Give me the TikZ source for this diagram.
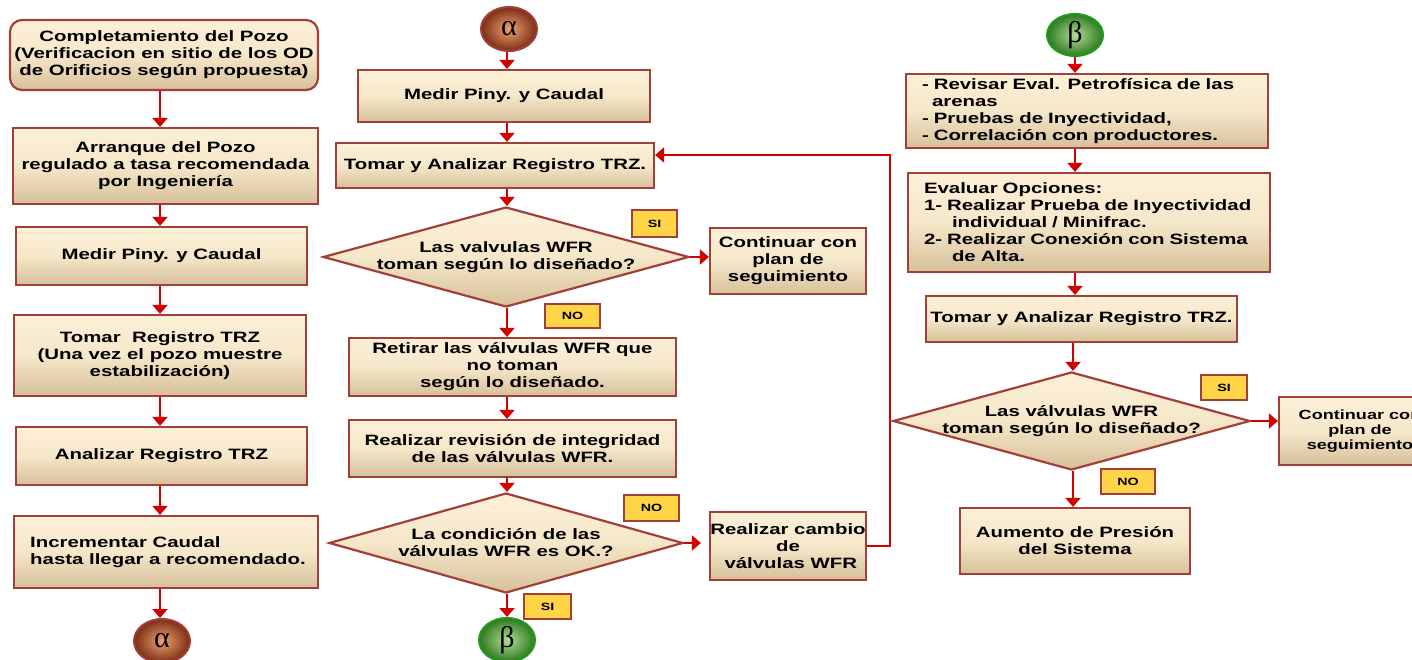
\documentclass[tikz,border=0pt]{standalone}
\usepackage{fontspec}
\setmainfont{Liberation Sans}[FakeStretch=1.36]
\newfontfamily\greekf{Liberation Serif}
\usetikzlibrary{shapes.geometric,arrows.meta}
\definecolor{bord}{HTML}{A33F3A}
\definecolor{btop}{HTML}{FCF0D8}
\definecolor{bmid}{HTML}{F5E7C9}
\definecolor{bbot}{HTML}{D6C09A}
\definecolor{arr}{HTML}{D30000}
\definecolor{lab}{HTML}{FFD446}
\definecolor{ain}{HTML}{EFA070}
\definecolor{aout}{HTML}{7A2E14}
\definecolor{bin}{HTML}{B2DC98}
\definecolor{bout}{HTML}{2C7A1E}
\definecolor{bbord}{HTML}{1F9A1F}
\tikzset{
  stepbox/.style={rectangle, draw=bord, line width=2.2pt, top color=btop, bottom color=bbot, middle color=bmid,
    align=center, inner sep=0pt, font=\bfseries\fontsize{15}{17}\selectfont},
  decbox/.style={diamond, draw=bord, line width=2.2pt, top color=btop, bottom color=bbot, middle color=bmid, inner sep=0pt},
  dtext/.style={align=center, inner sep=0pt, font=\bfseries\fontsize{15}{17}\selectfont},
  ltext/.style={align=left, inner sep=0pt, font=\bfseries\fontsize{15}{17}\selectfont},
  labbox/.style={rectangle, draw=bord, line width=2pt, fill=lab, inner sep=0pt, font=\bfseries\fontsize{10.5}{12}\selectfont},
  alphac/.style={ellipse, draw=bord, line width=2pt, inner color=ain, outer color=aout, inner sep=0pt, font=\greekf\fontsize{30}{30}\selectfont},
  betac/.style={ellipse, draw=bbord, line width=2pt, inner color=bin, outer color=bout, inner sep=0pt, font=\greekf\fontsize{30}{30}\selectfont},
  flow/.style={draw=arr, line width=2pt, -{Triangle[width=15pt,length=9pt]}},
}
\begin{document}
\begin{tikzpicture}[x=1pt,y=-1pt]
\fill[white] (0,0) rectangle (1412,660);
\useasboundingbox (0,0) rectangle (1412,660);

% ---------- left column ----------
\node[stepbox, rounded corners=12pt, minimum width=308pt, minimum height=70pt] (c1) at (164,55)
  {Completamiento del Pozo\\(Verificacion en sitio de los OD\\de Orificios según propuesta)};
\node[stepbox, minimum width=305pt, minimum height=76pt] (c2) at (165.5,166)
  {Arranque del Pozo\\regulado a tasa recomendada\\por Ingeniería};
\node[stepbox, minimum width=291pt, minimum height=58pt] (c3) at (161.5,256) {Medir Piny. y Caudal};
\node[stepbox, minimum width=292pt, minimum height=81pt] (c4) at (160,355.5)
  {Tomar\ \ Registro TRZ\\(Una vez el pozo muestre\\estabilización)};
\node[stepbox, minimum width=291pt, minimum height=58pt] (c5) at (161.5,456) {Analizar Registro TRZ};
\node[stepbox, minimum width=304pt, minimum height=72pt] (c6) at (166,552) {};
\node[ltext, anchor=west] (c6t) at (30,552) {Incrementar Caudal\\hasta llegar a recomendado.};
\node[alphac, minimum width=56pt, minimum height=44pt] (c7) at (162,641) {α};

\draw[flow] (c1.south -| 160,0) -- (c2.north -| 160,0);
\draw[flow] (c2.south -| 160,0) -- (c3.north -| 160,0);
\draw[flow] (c3.south -| 160,0) -- (c4.north -| 160,0);
\draw[flow] (c4.south -| 160,0) -- (c5.north -| 160,0);
\draw[flow] (c5.south -| 160,0) -- (c6.north -| 160,0);
\draw[flow] (c6.south -| 160,0) -- (c7.north -| 160,0);

% ---------- middle column ----------
\node[alphac, minimum width=56pt, minimum height=44pt] (m0) at (509,29) {α};
\node[stepbox, minimum width=292pt, minimum height=52pt] (m1) at (504,96) {Medir Piny. y Caudal};
\node[stepbox, minimum width=318pt, minimum height=45pt] (m2) at (495,165.5) {Tomar y Analizar Registro TRZ.};
\node[decbox, minimum width=366pt, minimum height=100pt] (d1) at (506,257) {};
\node[dtext] (d1t) at (d1.center) {Las valvulas WFR\\toman según lo diseñado?};
\node[labbox, minimum width=45pt, minimum height=27pt] (si1) at (654.5,223.5) {SI};
\node[stepbox, minimum width=156pt, minimum height=66pt] (cont1) at (788,261) {Continuar con\\plan de\\seguimiento};
\node[labbox, minimum width=55pt, minimum height=24pt] (no1) at (572.5,316) {NO};
\node[stepbox, minimum width=327pt, minimum height=58pt] (m3) at (512.5,367)
  {Retirar las válvulas WFR que\\no toman\\según lo diseñado.};
\node[stepbox, minimum width=327pt, minimum height=57pt] (m4) at (512.5,448.5)
  {Realizar revisión de integridad\\de las válvulas WFR.};
\node[decbox, minimum width=354pt, minimum height=100pt] (d2) at (506,543) {};
\node[dtext] (d2t) at (d2.center) {La condición de las\\válvulas WFR es OK.?};
\node[labbox, minimum width=55pt, minimum height=26pt] (no2) at (651.5,508) {NO};
\node[stepbox, minimum width=156pt, minimum height=68pt] (cambio) at (788,546) {Realizar cambio\\de\\\ válvulas WFR};
\node[labbox, minimum width=47pt, minimum height=25pt] (si2) at (547.5,606.5) {SI};
\node[betac, minimum width=56pt, minimum height=44pt] (m5) at (507,640) {β};
\coordinate (fb) at (890,155);

\draw[flow] (m0.south -| 507,0) -- (m1.north -| 507,0);
\draw[flow] (m1.south -| 507,0) -- (m2.north -| 507,0);
\draw[flow] (m2.south -| 507,0) -- (d1.north -| 507,0);
\draw[flow] (d1.east) -- (d1.east -| cont1.west);
\draw[flow] (d1.south -| 507,0) -- (m3.north -| 507,0);
\draw[flow] (m3.south -| 507,0) -- (m4.north -| 507,0);
\draw[flow] (m4.south -| 507,0) -- (d2.north -| 507,0);
\draw[flow, shorten >=8pt] (d2.east) -- (d2.east -| cambio.west);
\draw[flow] (d2.south -| 507,0) -- (m5.north -| 507,0);
\draw[flow] (cambio.east) -| (fb) -- (fb -| m2.east);

% ---------- right column ----------
\node[betac, minimum width=56pt, minimum height=42pt] (r0) at (1075,35) {β};
\node[stepbox, minimum width=362pt, minimum height=74pt, text width=330pt, align=left] (r1) at (1087,111)
  {- Revisar Eval. Petrofísica de las\\\hspace*{10pt}arenas\\- Pruebas de Inyectividad,\\- Correlación con productores.};
\node[stepbox, minimum width=362pt, minimum height=99pt, text width=330pt, align=left] (r2) at (1089,222.5)
  {Evaluar Opciones:\\1- Realizar Prueba de Inyectividad\\\hspace*{28pt}individual / Minifrac.\\2- Realizar Conexión con Sistema\\\hspace*{28pt}de Alta.};
\node[stepbox, minimum width=311pt, minimum height=46pt] (r3) at (1081.5,319) {Tomar y Analizar Registro TRZ.};
\node[decbox, minimum width=357pt, minimum height=98pt] (d3) at (1071.5,421) {};
\node[dtext] (d3t) at (d3.center) {Las válvulas WFR\\toman según lo diseñado?};
\node[labbox, minimum width=46pt, minimum height=25pt] (si3) at (1224,387.5) {SI};
\node[stepbox, minimum width=162pt, minimum height=68pt, font=\bfseries\fontsize{13.3}{15}\selectfont] (cont2) at (1360,431)
  {Continuar con\\plan de\\seguimiento};
\node[labbox, minimum width=54pt, minimum height=25pt] (no3) at (1128,481.5) {NO};
\node[stepbox, minimum width=230pt, minimum height=66pt] (r4) at (1075,541) {Aumento de Presión\\del Sistema};

\draw[flow] (r0.south -| 1075,0) -- (r1.north -| 1075,0);
\draw[flow] (r1.south -| 1075,0) -- (r2.north -| 1075,0);
\draw[flow] (r2.south -| 1075,0) -- (r3.north -| 1075,0);
\draw[flow] (r3.south -| 1073,0) -- (d3.north -| 1073,0);
\draw[flow] (d3.east) -- (d3.east -| cont2.west);
\draw[flow] (d3.south -| 1073,0) -- (r4.north -| 1073,0);
\end{tikzpicture}
\end{document}
